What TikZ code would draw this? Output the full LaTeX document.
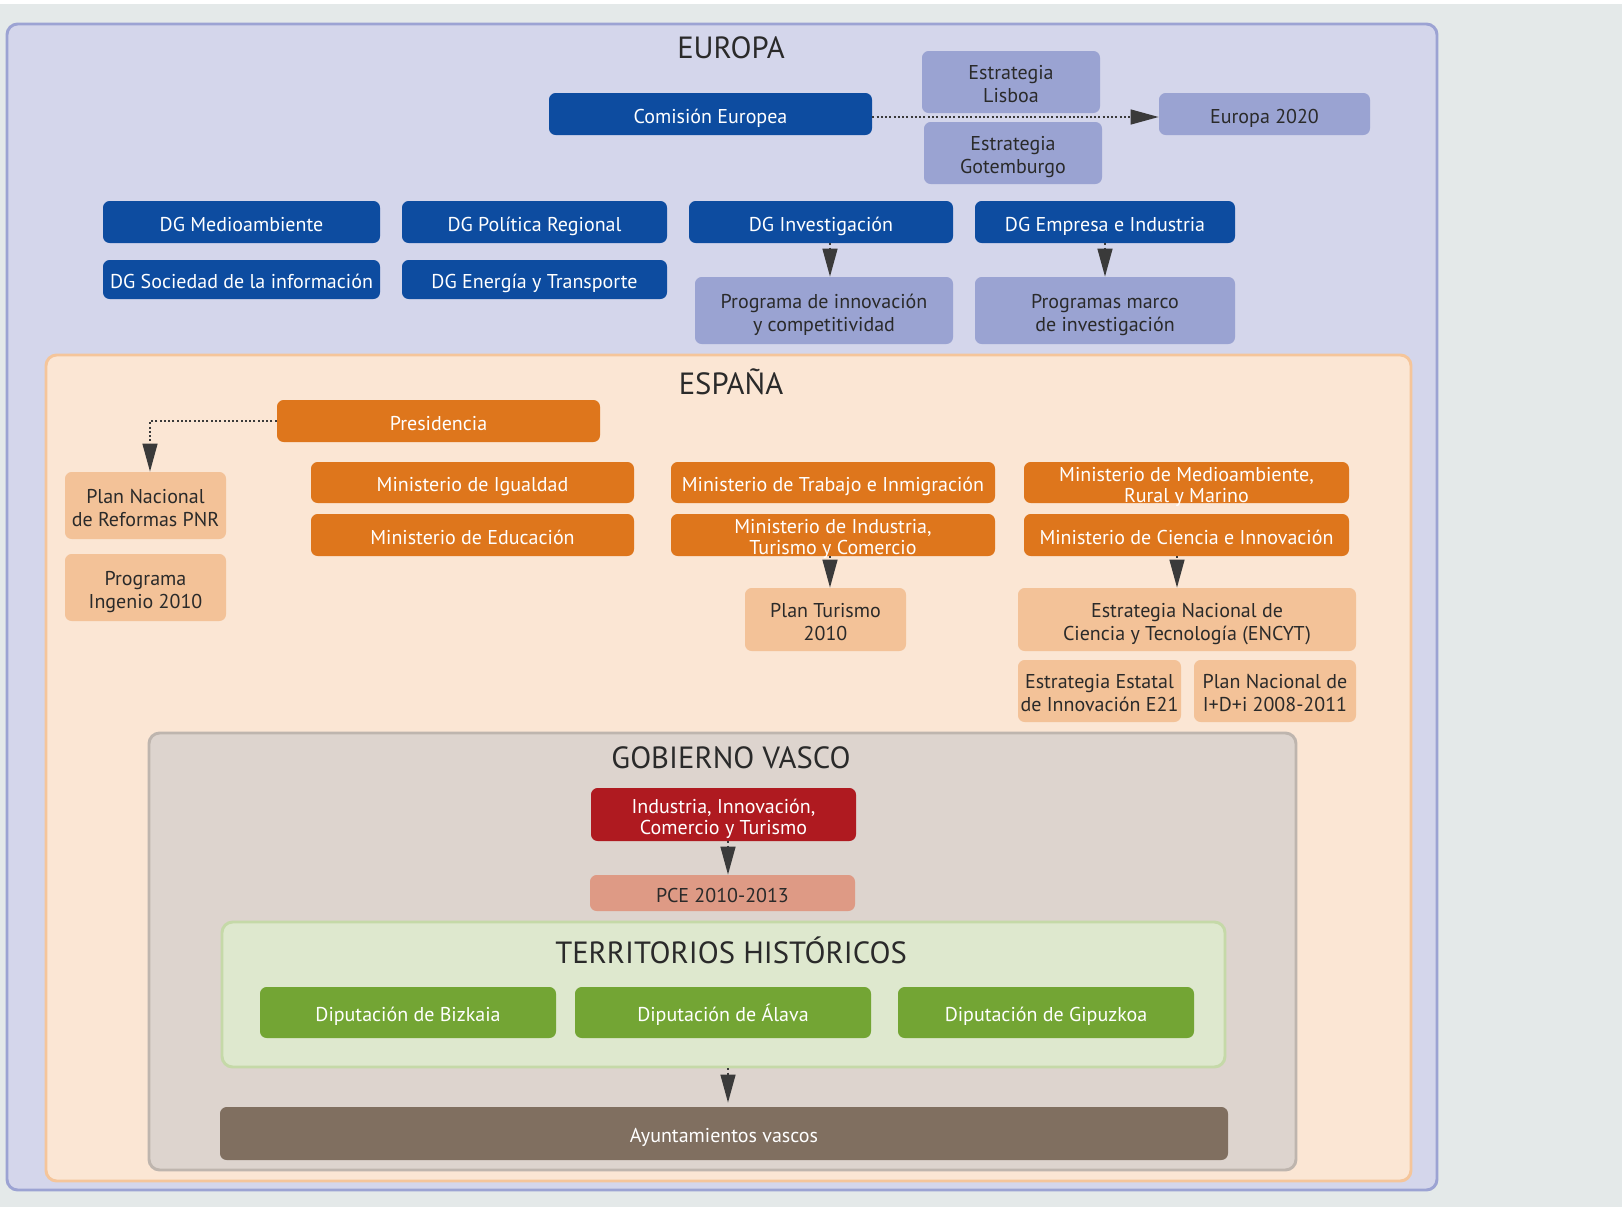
\documentclass[tikz,border=0pt]{standalone}
\usepackage{fontspec}
\setmainfont{PT Sans}
\usetikzlibrary{arrows.meta}
\definecolor{cPage}{HTML}{E4E9E9}
\definecolor{cEUbg}{HTML}{D4D6EB}
\definecolor{cEUbd}{HTML}{9CA3D3}
\definecolor{cESbg}{HTML}{FBE6D4}
\definecolor{cESbd}{HTML}{F5C59A}
\definecolor{cGVbg}{HTML}{DDD4CE}
\definecolor{cGVbd}{HTML}{BEB5AE}
\definecolor{cTHbg}{HTML}{DEE8CE}
\definecolor{cTHbd}{HTML}{C5D9A8}
\definecolor{cDB}{HTML}{0D4CA0}
\definecolor{cLB}{HTML}{9AA3D2}
\definecolor{cOR}{HTML}{DE761C}
\definecolor{cLO}{HTML}{F3C298}
\definecolor{cRD}{HTML}{AF1A20}
\definecolor{cPCE}{HTML}{DE9A85}
\definecolor{cGR}{HTML}{73A534}
\definecolor{cBR}{HTML}{806F60}
\definecolor{cTxt}{HTML}{2A2A2A}
\definecolor{cArr}{HTML}{3A3A3A}
\newcommand\BX[7]{%
  \node[#1,minimum width={(#4-#2)*0.75pt},minimum height={(#5-#3)*0.75pt}] (#6) at ({(#2+#4)/2},{(#3+#5)/2}) {};%
  \node[#1,fill=none,draw=none,minimum width=0pt,minimum height=0pt] (#6-t) at ([yshift=-2pt]#6.center) {\vphantom{Ágy}#7\vphantom{gy}};}
\tikzset{
  box/.style={rounded corners=5pt, inner sep=0pt, align=center, font=\fontsize{15}{17.5}\selectfont},
  tight/.style={font=\fontsize{15}{15.5}\selectfont},
  dblue/.style={box, fill=cDB, text=white},
  lblue/.style={box, fill=cLB, text=cTxt},
  orng/.style={box, fill=cOR, text=white},
  lorng/.style={box, fill=cLO, text=cTxt},
  redbox/.style={box, fill=cRD, text=white},
  pcebox/.style={box, fill=cPCE, text=cTxt},
  grbox/.style={box, fill=cGR, text=white},
  brbox/.style={box, fill=cBR, text=white},
  cont/.style={rounded corners=8pt, inner sep=0pt, line width=2.2pt},
  ttl/.style={font=\fontsize{23}{27}\selectfont, text=cTxt, inner sep=0pt},
  arr/.style={draw=cArr, line width=1.7pt, dash pattern=on 1.5pt off 1.7pt,
    -{Triangle[length=21pt,width=11pt]}},
}
\begin{document}
\begin{tikzpicture}[x=0.75pt,y=-0.75pt]
\useasboundingbox (0,0) rectangle (1622,1207);
\fill[cPage] (0,0) rectangle (1622,1207);
\fill[white] (0,0) rectangle (1622,4);
% containers
\BX{cont, draw=cEUbd, fill=cEUbg}{7}{24}{1437}{1190}{europa}{}
\BX{cont, draw=cESbd, fill=cESbg}{46}{355}{1411}{1181}{espana}{}
\BX{cont, draw=cGVbd, fill=cGVbg}{149}{733}{1296}{1170}{gvasco}{}
\BX{cont, draw=cTHbd, fill=cTHbg}{222}{922}{1225}{1067}{territ}{}
% titles
\node[ttl] (tEU) at (731,48) {EUROPA};
\node[ttl] (tES) at (731,382) {ESPAÑA};
\node[ttl] (tGV) at (731,758) {GOBIERNO VASCO};
\node[ttl] (tTH) at (731,950) {TERRITORIOS HISTÓRICOS};
% Europa
\BX{dblue}{549}{93}{872}{135}{com}{Comisión Europea}
\BX{lblue}{922}{51}{1100}{113}{lisboa}{Estrategia\\Lisboa}
\BX{lblue}{924}{122}{1102}{184}{gotem}{Estrategia\\Gotemburgo}
\BX{lblue}{1159}{93}{1370}{135}{eu2020}{Europa 2020}
\BX{dblue}{103}{201}{380}{243}{dgmed}{DG Medioambiente}
\BX{dblue}{402}{201}{667}{243}{dgpol}{DG Política Regional}
\BX{dblue}{689}{201}{953}{243}{dginv}{DG Investigación}
\BX{dblue}{975}{201}{1235}{243}{dgemp}{DG Empresa e Industria}
\BX{dblue}{103}{260}{380}{299}{dgsoc}{DG Sociedad de la información}
\BX{dblue}{402}{260}{667}{299}{dgene}{DG Energía y Transporte}
\BX{lblue}{695}{277}{953}{344}{prog}{Programa de innovación\\y competitividad}
\BX{lblue}{975}{277}{1235}{344}{pmarco}{Programas marco\\de investigación}
% España
\BX{orng}{277}{400}{600}{442}{pres}{Presidencia}
\BX{lorng}{65}{472}{226}{539}{pnr}{Plan Nacional\\de Reformas PNR}
\BX{lorng}{65}{554}{226}{621}{ingenio}{Programa\\Ingenio 2010}
\BX{orng}{311}{462}{634}{503}{migu}{Ministerio de Igualdad}
\BX{orng}{311}{514}{634}{556}{medu}{Ministerio de Educación}
\BX{orng}{671}{462}{995}{503}{mtra}{Ministerio de Trabajo e Inmigración}
\BX{orng,tight}{671}{514}{995}{556}{mind}{Ministerio de Industria,\\Turismo y Comercio}
\BX{orng,tight}{1024}{462}{1349}{503}{mmed}{Ministerio de Medioambiente,\\Rural y Marino}
\BX{orng}{1024}{514}{1349}{556}{mcie}{Ministerio de Ciencia e Innovación}
\BX{lorng}{745}{588}{906}{651}{ptur}{Plan Turismo\\2010}
\BX{lorng}{1018}{588}{1356}{651}{encyt}{Estrategia Nacional de\\Ciencia y Tecnología (ENCYT)}
\BX{lorng}{1018}{660}{1181}{722}{e21}{Estrategia Estatal\\de Innovación E21}
\BX{lorng}{1194}{660}{1356}{722}{idi}{Plan Nacional de\\I+D+i 2008-2011}
% Gobierno Vasco
\BX{redbox,tight}{591}{788}{856}{841}{iict}{Industria, Innovación,\\Comercio y Turismo}
\BX{pcebox}{590}{875}{855}{911}{pce}{PCE 2010-2013}
\BX{grbox}{260}{987}{556}{1038}{biz}{Diputación de Bizkaia}
\BX{grbox}{575}{987}{871}{1038}{ala}{Diputación de Álava}
\BX{grbox}{898}{987}{1194}{1038}{gip}{Diputación de Gipuzkoa}
\BX{brbox}{220}{1107}{1228}{1160}{ayto}{Ayuntamientos vascos}
% connectors
\coordinate (xa) at (830,0);
\coordinate (xb) at (150,0);
\coordinate (xc) at (1177,0);
\coordinate (xg) at (728,0);
\coordinate (ye) at (0,117);
\draw[arr] (com.east |- ye) -- (eu2020.west |- ye);
\draw[arr] (dginv.south -| xa) -- (prog.north -| xa);
\draw[arr] (dgemp.south) -- (pmarco.north);
\draw[arr] (pres.west) -| (pnr.north -| xb);
\draw[arr] (mind.south -| xa) -- (ptur.north -| xa);
\draw[arr] (mcie.south -| xc) -- (encyt.north -| xc);
\draw[arr] (iict.south -| xg) -- (pce.north -| xg);
\draw[arr] (territ.south -| xg) -- ([yshift=3pt]ayto.north -| xg);
\end{tikzpicture}
\end{document}
